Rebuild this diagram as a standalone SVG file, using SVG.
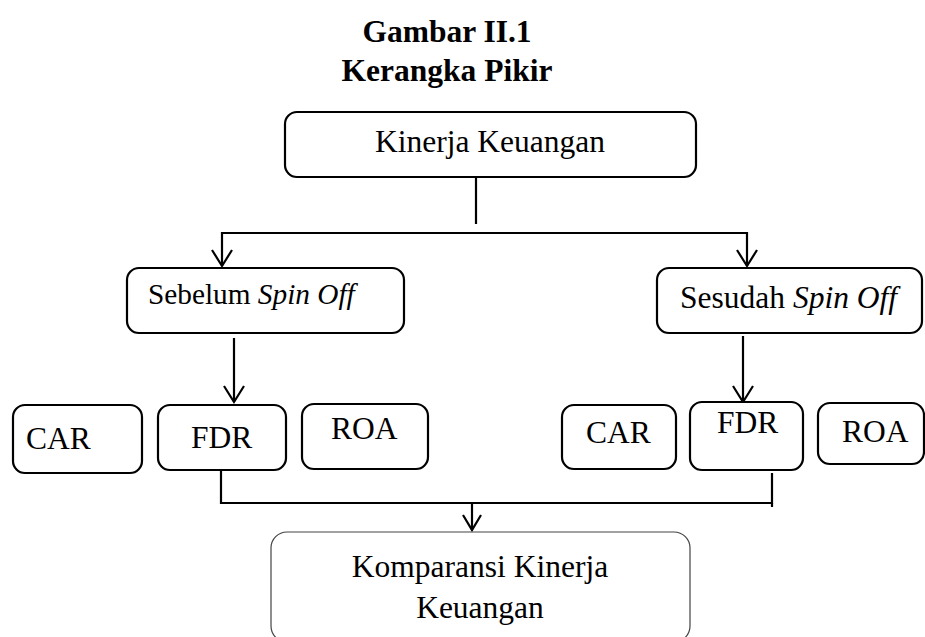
<svg xmlns="http://www.w3.org/2000/svg" width="925" height="637" viewBox="0 0 925 637">
<style>
  .box { fill: #fff; stroke: #000; stroke-width: 2.2; }
  .thin { fill: #fff; stroke: #444; stroke-width: 1.2; }
  .t { font-family: "Liberation Serif", "Times New Roman", serif; font-size: 31.5px; fill: #000; }
  .title { font-family: "Liberation Serif", "Times New Roman", serif; font-size: 31.5px; font-weight: bold; fill: #000; text-anchor: middle; }
  .ln { fill: none; stroke: #000; stroke-width: 2.2; }
  .ah { fill: none; stroke: #000; stroke-width: 2.2; stroke-linejoin: miter; }
</style>
<rect width="925" height="637" fill="#fff"/>
<g id="title">
  <text class="title" x="447" y="42">Gambar II.1</text>
  <text class="title" x="447" y="81">Kerangka Pikir</text>
</g>
<g id="connectors">
  <path class="ln" d="M476 177 V224"/>
  <path class="ln" d="M222 266 V233 H747 V266"/>
  <path class="ah" d="M212 250 L222 266 L232 250"/>
  <path class="ah" d="M737 250 L747 266 L757 250"/>
  <path class="ln" d="M234 338 V402"/>
  <path class="ah" d="M224 386 L234 402 L244 386"/>
  <path class="ln" d="M743 336 V402"/>
  <path class="ah" d="M733 386 L743 402 L753 386"/>
  <path class="ln" d="M221 471 V503 H772 V473"/>
  <path class="ln" d="M772 503 V507"/>
  <path class="ln" d="M472 503 V530"/>
  <path class="ah" d="M463 515 L472 530 L481 515"/>
</g>
<g id="kinerja">
  <rect class="box" x="285" y="112" width="411" height="65" rx="12"/>
  <text class="t" x="375" y="152">Kinerja Keuangan</text>
</g>
<g id="sebelum">
  <rect class="box" x="127" y="268" width="277" height="65" rx="12"/>
  <text class="t" x="148" y="304" style="font-size:29.3px">Sebelum <tspan font-style="italic">Spin Off</tspan></text>
</g>
<g id="sesudah">
  <rect class="box" x="657" y="268" width="265" height="65" rx="12"/>
  <text class="t" x="680" y="308">Sesudah <tspan font-style="italic">Spin Off</tspan></text>
</g>
<g id="car-left">
  <rect class="box" x="13" y="405" width="129" height="68" rx="12"/>
  <text class="t" x="26" y="449">CAR</text>
</g>
<g id="fdr-left">
  <rect class="box" x="158" y="405" width="128" height="65" rx="12"/>
  <text class="t" x="191" y="448">FDR</text>
</g>
<g id="roa-left">
  <rect class="box" x="302" y="404" width="126" height="65" rx="12"/>
  <text class="t" x="331" y="439">ROA</text>
</g>
<g id="car-right">
  <rect class="box" x="562" y="405" width="114" height="64" rx="12"/>
  <text class="t" x="586" y="443">CAR</text>
</g>
<g id="fdr-right">
  <rect class="box" x="690" y="402" width="113" height="68" rx="12"/>
  <text class="t" x="717" y="433">FDR</text>
</g>
<g id="roa-right">
  <rect class="box" x="818" y="403" width="106" height="61" rx="12"/>
  <text class="t" x="842" y="442">ROA</text>
</g>
<g id="komparansi">
  <rect class="thin" x="271" y="532" width="419" height="110" rx="16"/>
  <text class="t" x="480" y="577" text-anchor="middle">Komparansi Kinerja</text>
  <text class="t" x="480" y="618" text-anchor="middle">Keuangan</text>
</g>
</svg>
